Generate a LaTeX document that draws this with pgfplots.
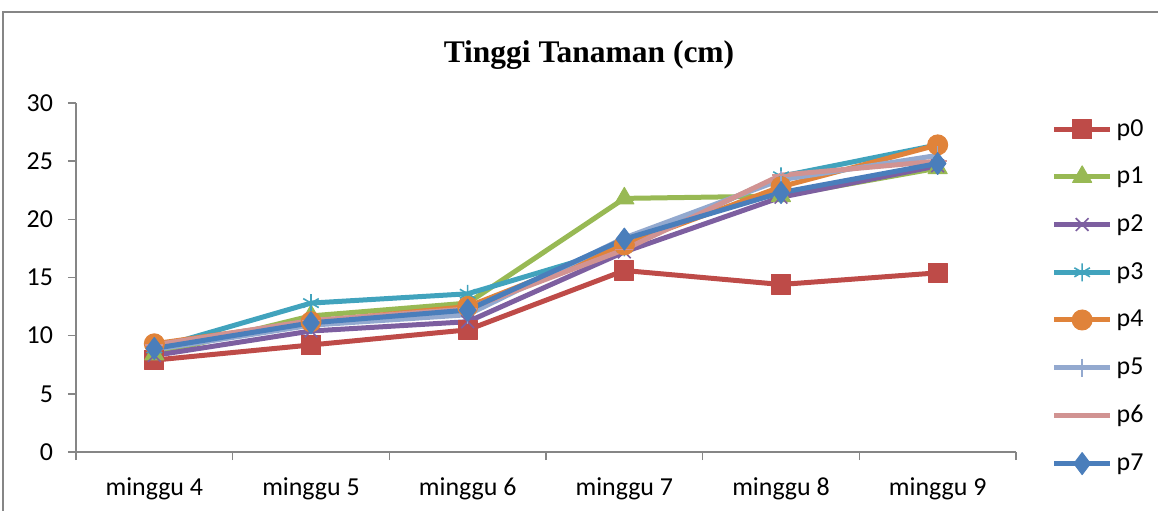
\documentclass[border=0pt]{standalone}
\usepackage{pgfplots}
\pgfplotsset{compat=1.18}
\usepackage{fontspec}
\setmainfont{Carlito}
\newfontfamily\titlefont{Liberation Serif}
\definecolor{cp0}{HTML}{BE4B48}
\definecolor{cp1}{HTML}{98B954}
\definecolor{cp2}{HTML}{7D5FA0}
\definecolor{cp3}{HTML}{41A3BD}
\definecolor{cp4}{HTML}{E0833A}
\definecolor{cp5}{HTML}{93A9CF}
\definecolor{cp6}{HTML}{D19392}
\definecolor{cp7}{HTML}{4A7EBB}
\definecolor{axgray}{HTML}{868686}
\begin{document}
\begin{tikzpicture}
\path[use as bounding box] (0bp,0bp) rectangle (579bp,255.5bp);
\draw[axgray, line width=0.8bp] (1.5bp,0bp) -- (1.5bp,249.5bp) -- (579bp,249.5bp);
\node[font=\titlefont\bfseries\fontsize{15.8}{18}\selectfont] at (294.5bp,228bp) {Tinggi Tanaman (cm)};
\begin{axis}[
  scale only axis,
  width=470bp, height=174.5bp,
  at={(38bp,29.5bp)}, anchor=south west,
  xmin=0.5, xmax=6.5, ymin=0, ymax=30,
  axis x line*=bottom, axis y line*=left,
  axis line style={draw=axgray, line width=0.8bp, -},
  xtick={1,2,3,4,5,6},
  xticklabels={minggu 4,minggu 5,minggu 6,minggu 7,minggu 8,minggu 9},
  major x tick style={draw=none},
  minor xtick={0.5,1.5,2.5,3.5,4.5,5.5,6.5},
  minor x tick style={draw=axgray, line width=0.8bp},
  minor tick length=4bp,
  ytick={0,5,10,15,20,25,30},
  y tick style={draw=axgray, line width=0.8bp},
  major tick length=4bp,
  tick align=outside,
  ticklabel style={font=\fontsize{13}{15}\selectfont},
  /pgf/number format/assume math mode=true,
  xticklabel style={yshift=-5.5bp},
  yticklabel style={xshift=-4bp},
  clip=false,
  legend cell align=left,
  legend style={at={(1.0375,0.966)}, anchor=north west, draw=none, fill=none,
    font=\fontsize{13}{15}\selectfont, row sep=10bp, inner sep=0pt},
  legend image code/.code={\draw[mark repeat=2,mark phase=2,#1] plot coordinates {(0bp,0bp) (14bp,0bp) (28bp,0bp)};},
  every axis plot/.append style={line width=2.5bp, line join=round},
]
\addplot[cp0, mark=square*, mark size=4.8bp, mark options={solid, line width=0.5bp}] coordinates {(1,7.9) (2,9.2) (3,10.5) (4,15.6) (5,14.4) (6,15.4)};
\addlegendentry{p0}
\addplot[cp1, mark=triangle*, mark size=5.5bp, mark options={solid, line width=0.5bp}] coordinates {(1,8.4) (2,11.7) (3,12.8) (4,21.8) (5,22.0) (6,24.4)};
\addlegendentry{p1}
\addplot[cp2, mark=x, mark size=4.5bp, mark options={solid, line width=0.8bp}] coordinates {(1,8.3) (2,10.4) (3,11.2) (4,17.2) (5,21.9) (6,24.6)};
\addlegendentry{p2}
\addplot[cp3, mark=asterisk, mark size=4.5bp, mark options={solid, line width=0.8bp}] coordinates {(1,8.9) (2,12.8) (3,13.6) (4,17.6) (5,23.7) (6,26.4)};
\addlegendentry{p3}
\addplot[cp4, mark=*, mark size=5bp, mark options={solid, line width=0.5bp}] coordinates {(1,9.3) (2,11.2) (3,12.5) (4,17.8) (5,22.8) (6,26.4)};
\addlegendentry{p4}
\addplot[cp5, mark=|, mark size=4.5bp, mark options={solid, line width=0.8bp}] coordinates {(1,8.8) (2,10.9) (3,11.8) (4,18.4) (5,23.4) (6,25.5)};
\addlegendentry{p5}
\addplot[cp6, mark=-, mark size=4.5bp, mark options={solid, line width=0.8bp}] coordinates {(1,9.2) (2,11.3) (3,12.3) (4,17.4) (5,23.8) (6,25.0)};
\addlegendentry{p6}
\addplot[cp7, mark=diamond*, mark size=5.5bp, mark options={solid, line width=0.5bp}] coordinates {(1,8.9) (2,11.1) (3,12.2) (4,18.3) (5,22.3) (6,24.8)};
\addlegendentry{p7}
\end{axis}
\end{tikzpicture}
\end{document}
